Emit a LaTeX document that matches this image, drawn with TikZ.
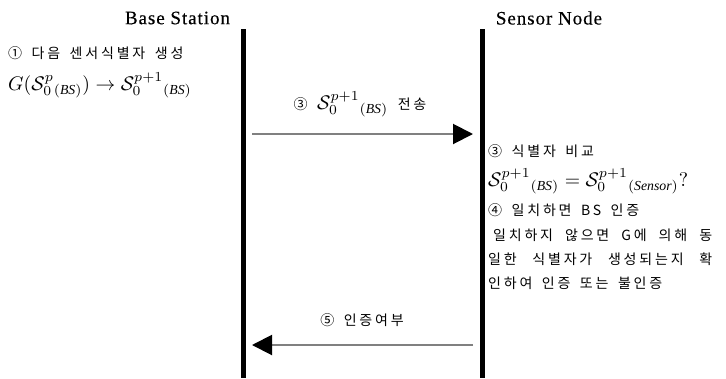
\documentclass[tikz,border=0pt]{standalone}
\usepackage{graphicx}
\usepackage{fontspec}
\setmainfont{Liberation Serif}
\newfontfamily\kr[LetterSpace=20,WordSpace=1.6]{Noto Sans CJK KR}
\usetikzlibrary{arrows.meta}
\tikzset{
  lifeline/.style={line width=5pt},
  title/.style={font=\fontsize{19}{19}\selectfont\addfontfeatures{LetterSpace=5,FakeBold=0.3}, inner sep=0pt},
  kt/.style={font=\kr\fontsize{14}{14}\selectfont, inner sep=0pt, anchor=west},
  mt/.style={inner sep=0pt, anchor=west},
  msg/.style={draw=gray, line width=2pt, -{Triangle[length=20pt,width=20pt,color=black,fill=black]}},
}
\newcommand{\Sv}[2]{\mathcal{S}_0^{#1}{}_{(\mathit{#2})}}
\newcommand{\mathbig}[1]{\scalebox{1.97}{\normalsize$#1$}}
\begin{document}
\begin{tikzpicture}[x=1pt,y=-1pt]
\useasboundingbox (0,0) rectangle (726,378);
% lifelines
\coordinate (bsTop) at (243,29);
\coordinate (bsBot) at (243,378);
\coordinate (snTop) at (482.5,29);
\coordinate (snBot) at (482.5,378);
\draw[lifeline] (bsTop) -- (bsBot);
\draw[lifeline] (snTop) -- (snBot);
% titles
\node[title] (bs) at (177.5,18) {Base Station};
\node[title] (sn) at (549,18) {Sensor Node};
% left text
\node[kt] (l1) at (8,53) {① 다음 센서식별자 생성};
\node[mt] (l2) at (8,85) {\mathbig{G(\Sv{p}{BS})\rightarrow \Sv{p+1}{BS}}};
% message 1
\coordinate (m1s) at (252,134);
\coordinate (m1e) at (473,134);
\draw[msg] (m1s) -- (m1e);
\node[kt, anchor=center] (m1l) at (360,104) {③ \mathbig{\Sv{p+1}{BS}} 전송};
% right text
\node[kt] (r1) at (488,151) {③ 식별자 비교};
\node[mt] (r2) at (488,181) {\mathbig{\Sv{p+1}{BS} = \Sv{p+1}{Sensor}?}};
\node[kt] (r3) at (488,210) {④ 일치하면 BS 인증};
\node[kt] (r4) at (493,235) {\makebox[219pt][s]{일치하지 않으면 G에 의해 동}};
\node[kt] (r5) at (488,259) {\makebox[224pt][s]{일한 식별자가 생성되는지 확}};
\node[kt] (r6) at (488,283) {인하여 인증 또는 불인증};
% message 2
\coordinate (m2s) at (473,345);
\coordinate (m2e) at (252,345);
\draw[msg] (m2s) -- (m2e);
\node[kt, anchor=center] (m2l) at (362,320) {⑤ 인증여부};
\end{tikzpicture}
\end{document}
